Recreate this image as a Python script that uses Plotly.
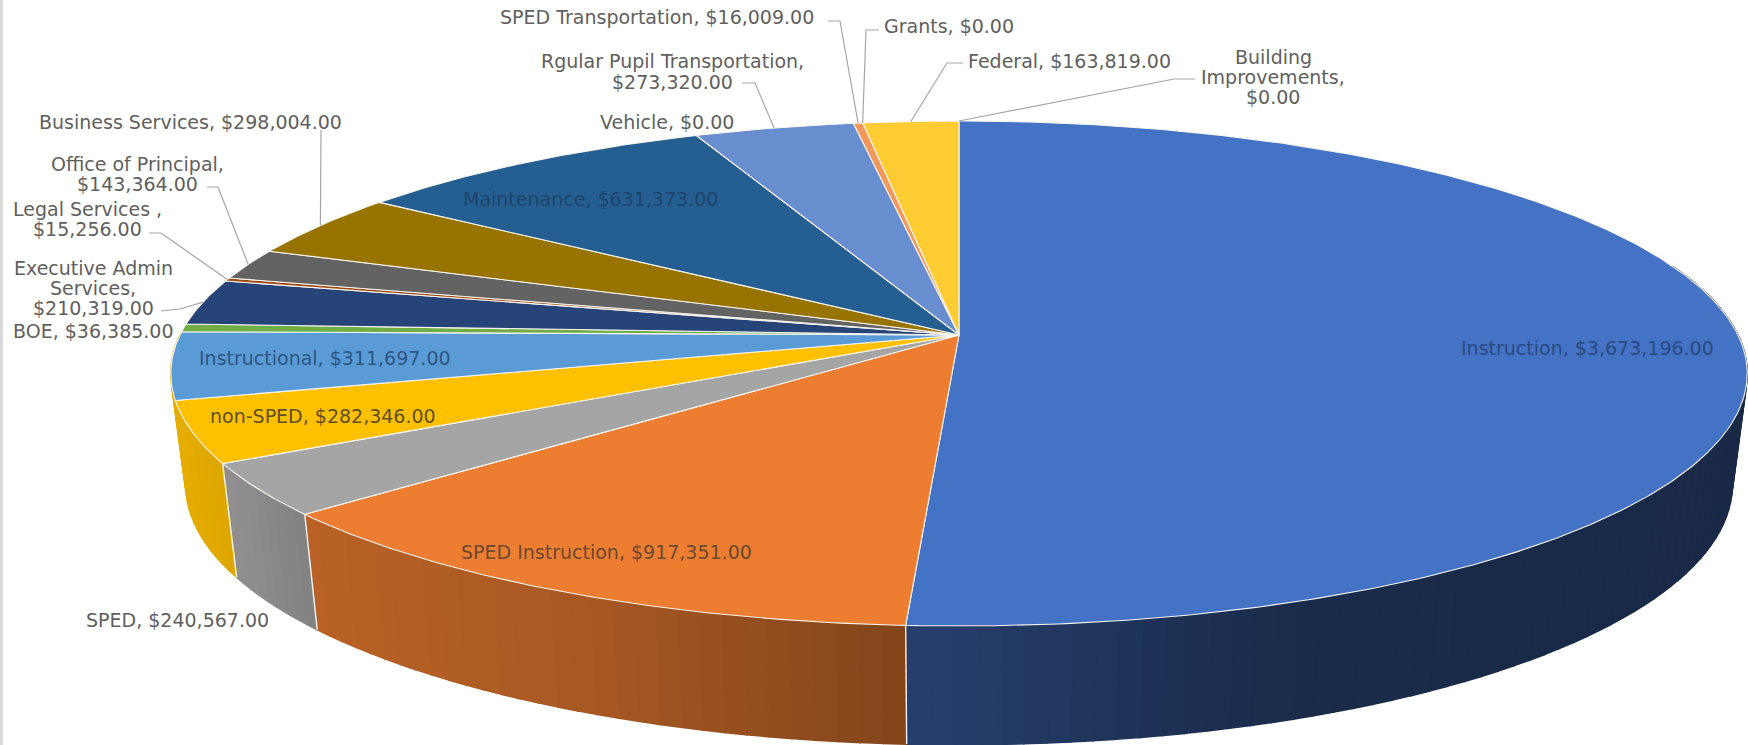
import numpy as np
import plotly.graph_objects as go

# ---- data ----
categories = ["Instruction", "SPED Instruction", "SPED", "non-SPED", "Instructional", "BOE",
              "Executive Admin Services", "Legal Services", "Office of Principal", "Business Services",
              "Maintenance", "Vehicle", "Rgular Pupil Transportation", "SPED Transportation",
              "Grants", "Federal", "Building Improvements"]
values = [3673196, 917351, 240567, 282346, 311697, 36385, 210319, 15256, 143364, 298004,
          631373, 0, 273320, 16009, 0, 163819, 0]
colors = ["#4472C4", "#ED7D31", "#A5A5A5", "#FFC000", "#5B9BD5", "#70AD47", "#264478", "#9E480E",
          "#636363", "#997300", "#255E91", "#43682B", "#698ED0", "#F1975A", "#B7B7B7", "#FFCD33", "#7CAFDD"]

# ---- projection of the tilted disc onto the page ----
CX, CY = 959.0, 335.0
K, A, B = 0.1525, 246.6, 779.0
BOT_SX, BOT_SY, BOT_D = 0.981, 1.03, 110.0
LAST_WALL = 3           # the wall of non-SPED runs round to the silhouette; later walls are hidden


def top(th):
    u, v = np.sin(th), np.cos(th)
    w = 1 + K * v
    return CX + B * u / w, CY - A * v / w


def bottom(th):
    x, y = top(th)
    return CX + (x - CX) * BOT_SX, CY + (y - CY) * BOT_SY + BOT_D


def side_factor(x):
    return np.interp(x, [171, 237, 310, 600, 905, 1300, 1748], [0.90, 0.86, 0.78, 0.70, 0.55, 0.38, 0.36])


def shade(hexc, f):
    r, g, b = (int(hexc[i:i + 2], 16) for i in (1, 3, 5))
    return f"rgb({r * f:.0f},{g * f:.0f},{b * f:.0f})"


fracs = np.array(values, float) / sum(values)
edges = np.concatenate([[0], np.cumsum(fracs)]) * 2 * np.pi

fig = go.Figure()
STEP = np.radians(1.5)

# side wall
for i in range(LAST_WALL + 1):
    c = colors[i]
    a0, a1 = edges[i], edges[i + 1]
    if i == LAST_WALL:
        a1 = edges[i + 2]
    n = max(1, int(np.ceil((a1 - a0) / STEP)))
    ts = np.linspace(a0, a1, n + 1)
    for t0, t1 in zip(ts[:-1], ts[1:]):
        tm = 0.5 * (t0 + t1)
        if np.cos(tm) > 0.3:
            continue
        arc = np.linspace(t0, t1, 4)
        xt, yt = top(arc)
        xb, yb = bottom(arc[::-1])
        col = shade(c, float(side_factor(top(tm)[0])))
        fig.add_trace(go.Scatter(x=np.r_[xt, xb, xt[0]], y=np.r_[yt, yb, yt[0]], mode="lines", fill="toself",
                                 fillcolor=col, line=dict(color=col, width=1.6), hoverinfo="skip", showlegend=False))

for i in range(LAST_WALL):
    t = edges[i + 1]
    xt, yt = top(t)
    xb, yb = bottom(t)
    fig.add_trace(go.Scatter(x=[xt, xb], y=[yt, yb], mode="lines", line=dict(color="#F4F1EA", width=1.4),
                             hoverinfo="skip", showlegend=False))

# top face
for i, (name, c) in enumerate(zip(categories, colors)):
    a0, a1 = edges[i], edges[i + 1]
    if a1 <= a0:
        continue
    arc = np.linspace(a0, a1, max(3, int((a1 - a0) / np.radians(0.5))))
    xa, ya = top(arc)
    fig.add_trace(go.Scatter(x=np.r_[CX, xa, CX], y=np.r_[CY, ya, CY], mode="lines", fill="toself", fillcolor=c,
                             line=dict(color="#F7F5EF", width=1.1), name=name, hoverinfo="name", showlegend=False))

# ---- labels (text, centre x, centre y, colour) ----
GREY = "#606060"
labels = [
    ("Business Services, $298,004.00", 190, 122, GREY),
    ("Office of Principal,", 137, 164, GREY),
    ("$143,364.00", 137, 184, GREY),
    ("Legal Services ,", 87, 209, GREY),
    ("$15,256.00", 87, 229, GREY),
    ("Executive Admin", 93, 268, GREY),
    ("Services,", 93, 288, GREY),
    ("$210,319.00", 93, 308, GREY),
    ("BOE, $36,385.00", 93, 331, GREY),
    ("Instructional, $311,697.00", 325, 358, "#2F5680"),
    ("non-SPED, $282,346.00", 323, 416, "#5E5028"),
    ("SPED Instruction, $917,351.00", 606, 552, "#6A4A30"),
    ("SPED, $240,567.00", 177, 620, GREY),
    ("Instruction, $3,673,196.00", 1587, 348, "#2A4A80"),
    ("Maintenance, $631,373.00", 590, 199, "#1F4468"),
    ("Vehicle, $0.00", 667, 122, GREY),
    ("Rgular Pupil Transportation,", 672, 61, GREY),
    ("$273,320.00", 672, 82, GREY),
    ("SPED Transportation, $16,009.00", 657, 17, GREY),
    ("Grants, $0.00", 949, 26, GREY),
    ("Federal, $163,819.00", 1069, 61, GREY),
    ("Building", 1273, 57, GREY),
    ("Improvements,", 1273, 77, GREY),
    ("$0.00", 1273, 97, GREY),
]
annotations = [dict(text=t, x=x, y=y, xref="x", yref="y", showarrow=False, xanchor="center", yanchor="middle",
                    font=dict(family="DejaVu Sans", size=19, color=col)) for t, x, y, col in labels]

# ---- leader lines: elbow points, ending on the rim of their slice ----
leaders = {
    "Business Services": [(321, 130)],
    "Office of Principal": [(207, 187), (218, 187)],
    "Legal Services": [(149, 233), (161, 233)],
    "Executive Admin Services": [(161, 311), (180, 309)],
    "Rgular Pupil Transportation": [(742, 83), (755, 83)],
    "SPED Transportation": [(828, 21), (840, 21)],
    "Grants": [(879, 30), (866, 30)],
    "Federal": [(963, 63), (947, 63)],
    "Building Improvements": [(1195, 79), (1174, 79)],
}
shapes = []
for name, pts in leaders.items():
    i = categories.index(name)
    ex, ey = top(0.5 * (edges[i] + edges[i + 1]))
    p = pts + [(float(ex), float(ey))]
    path = "M " + " L ".join(f"{x:.1f},{y:.1f}" for x, y in p)
    shapes.append(dict(type="path", path=path, xref="x", yref="y", line=dict(color="#A6A6A6", width=1.2)))
shapes.append(dict(type="rect", xref="x", yref="y", x0=0, x1=3, y0=0, y1=745, fillcolor="#D9D9D9", line_width=0))

fig.update_layout(
    width=1748, height=745, margin=dict(l=0, r=0, t=0, b=0), paper_bgcolor="white", plot_bgcolor="white",
    xaxis=dict(range=[0, 1748], visible=False, fixedrange=True),
    yaxis=dict(range=[745, 0], visible=False, fixedrange=True),
    annotations=annotations, shapes=shapes, showlegend=False,
)
fig.write_html("out.html", config=dict(displayModeBar=False),
               post_script="document.body.style.margin='0';document.body.style.overflow='hidden';")
